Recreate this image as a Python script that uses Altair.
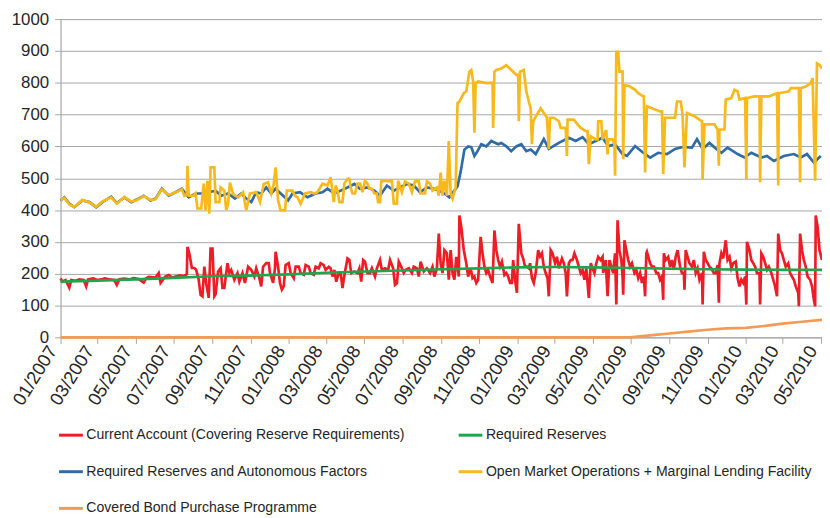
import altair as alt
import pandas as pd

# ---------------- data (day offset from 2007-01-01, value in EUR bn) ----------------
names = [
    "Current Account (Covering Reserve Requirements)",
    "Required Reserves",
    "Required Reserves and Autonomous Factors",
    "Open Market Operations + Marginal Lending Facility",
    "Covered Bond Purchase Programme",
]
colors = ["#EE1C25", "#1FA64B", "#2F6BA7", "#F8B91C", "#F39A55"]

blue = [(0,430),(6,440),(14,420),(22,409),(35,430),(46,425),(57,409),(67,425),(81,442),(90,422),
        (102,440),(113,425),(122,433),(133,445),(144,430),(152,436),(162,467),(173,445),(184,456),(194,467),
        (205,440),(216,452),(225,452),(237,456),(248,461),(257,445),(268,452),(279,436),(289,452),(297,436),
        (305,425),(313,456),(321,452),(329,471),(337,452),(344,467),(356,445),(364,430),(371,452),(383,456),
        (395,440),(408,452),(419,456),(427,467),(438,452),(448,461),(459,471),(470,482),(479,467),(491,471),
        (502,461),(511,445),(522,477),(533,461),(543,471),(554,482),(565,477),(575,456),(586,471),(597,467),
        (606,461),(614,452),(622,440),(630,461),(635,475),(640,520),(646,590),(652,600),(657,598),(662,570),
        (667,585),(673,607),(681,600),(689,617),(700,607),(705,611),(713,600),(721,585),(729,600),(737,607),
        (745,585),(752,590),(760,576),(773,623),(781,592),(797,611),(813,627),(824,617),(835,629),(845,607),
        (856,617),(867,627),(876,601),(887,607),(899,576),(906,570),(919,601),(932,580),(943,565),(956,580),
        (970,576),(983,592),(995,598),(1010,596),(1018,623),(1027,592),(1038,611),(1049,592),(1057,580),
        (1067,596),(1083,576),(1094,565),(1105,580),(1121,565),(1130,570),(1141,554),(1157,570),(1173,576),
        (1184,565),(1194,576),(1205,549),(1216,570)]

yellow = [(0,432),(6,438),(14,418),(22,410),(35,432),(46,424),(57,410),(67,427),(81,440),(90,420),
          (102,441),(113,427),(122,431),(133,444),(144,432),(152,434),(162,465),(173,447),(184,455),(194,465),
          (198,445),(202,450),(203,539),(205,445),(213,445),(216,452),(219,405),(225,405),(229,483),(232,399),
          (235,492),(238,389),(240,534),(246,534),(248,425),(254,425),(256,471),(262,461),(265,400),(268,420),
          (271,486),(276,450),(284,440),(292,456),(297,399),(303,452),(313,456),(319,425),(325,482),(332,487),
          (337,452),(341,482),(344,534),(348,430),(352,399),(359,399),(362,461),(371,461),(375,445),(379,440),
          (384,420),(391,452),(400,456),(406,452),(411,456),(419,483),(427,477),(432,503),(437,425),(440,477),
          (443,461),(446,425),(451,425),(454,483),(459,498),(462,498),(464,471),(467,452),(471,452),(475,483),
          (479,483),(483,456),(487,492),(491,483),(494,467),(498,467),(502,452),(506,452),(508,425),(511,425),
          (513,490),(519,492),(525,490),(530,492),(533,420),(538,420),(540,492),(546,456),(551,490),(557,483),
          (562,456),(567,490),(573,490),(576,452),(583,452),(586,490),(591,483),(595,461),(602,471),(605,445),
          (608,518),(611,445),(614,492),(618,445),(621,617),(624,452),(627,436),(632,471),(635,736),(638,741),
          (645,767),(649,773),(654,835),(657,840),(660,804),(662,643),(664,799),(668,804),(681,799),(691,800),
          (692,658),(694,835),(697,840),(705,845),(713,855),(721,840),(729,825),(732,825),(733,679),(735,835),
          (741,840),(745,773),(749,741),(752,720),(754,607),(756,679),(762,700),(768,720),(773,705),(778,690),
          (781,591),(783,690),(789,690),(797,679),(800,658),(808,658),(810,570),(811,684),(821,684),(827,669),
          (832,658),(840,648),(843,648),(845,544),(848,632),(856,622),(859,622),(860,679),(865,679),(867,622),
          (872,648),(873,648),(875,575),(876,622),(883,622),(886,606),(887,508),(889,897),(892,897),(894,835),
          (899,835),(900,560),(902,793),(911,788),(919,778),(924,767),(932,757),(933,757),(935,518),(938,726),
          (951,716),(959,710),(962,710),(964,513),(967,690),(983,690),(986,741),(992,741),(995,700),(998,534),
          (1002,705),(1014,695),(1022,684),(1026,679),(1027,497),(1030,669),(1046,669),(1051,653),(1053,539),
          (1054,653),(1062,653),(1064,747),(1073,752),(1078,778),(1083,773),(1086,747),(1095,752),(1097,497),
          (1098,752),(1110,757),(1118,757),(1119,487),(1121,757),(1133,757),(1146,767),(1148,477),(1149,767),
          (1165,773),(1168,783),(1181,783),(1183,487),(1184,783),(1192,788),(1200,799),(1203,815),(1207,492),
          (1210,861),(1214,856),(1218,845)]

red = [(0,185),(3,175),(8,180),(14,156),(17,180),(24,178),(30,182),(37,180),(41,160),(44,182),
       (52,185),(59,180),(65,182),(71,185),(78,182),(86,180),(90,165),(94,183),(102,185),(110,182),
       (117,186),(125,183),(133,172),(137,186),(141,190),(152,188),(157,202),(160,171),(167,190),(173,196),
       (179,188),(184,191),(191,195),(197,192),(202,198),(203,284),(206,264),(210,218),(214,218),(217,212),
       (221,181),(224,134),(227,129),(230,222),(233,170),(237,124),(240,279),(243,279),(246,129),(248,135),
       (252,207),(256,217),(259,155),(262,155),(267,233),(270,202),(273,212),(278,181),(283,202),(286,175),
       (291,202),(295,171),(300,222),(305,212),(310,191),(313,217),(318,186),(321,160),(324,222),(329,233),
       (333,233),(335,202),(340,171),(343,217),(344,269),(348,222),(351,171),(354,150),(357,160),(360,227),
       (365,233),(368,202),(373,186),(376,222),(381,222),(384,202),(389,197),(392,227),(397,222),(400,202),
       (405,197),(408,222),(413,217),(416,233),(421,227),(424,212),(429,222),(432,217),(435,191),(438,212),
       (441,175),(445,202),(448,202),(451,155),(454,196),(459,248),(462,243),(465,202),(470,207),(475,202),
       (478,217),(481,175),(484,243),(487,238),(491,202),(495,202),(498,217),(503,191),(506,217),(511,243),
       (514,212),(519,217),(524,212),(527,243),(532,217),(535,165),(538,170),(541,238),(545,222),(549,202),
       (552,212),(557,217),(562,202),(565,222),(570,217),(573,191),(576,238),(581,207),(586,217),(591,202),
       (595,222),(598,191),(602,217),(605,326),(608,233),(611,202),(614,274),(618,264),(621,181),(624,274),
       (627,202),(630,181),(633,253),(637,191),(638,383),(641,347),(645,274),(646,264),(649,233),(652,191),
       (656,217),(659,186),(662,191),(665,171),(668,181),(672,316),(675,264),(678,222),(681,202),(684,212),
       (687,191),(691,171),(694,336),(697,274),(700,243),(703,222),(706,238),(710,196),(713,202),(716,191),
       (719,171),(722,171),(724,243),(727,181),(730,140),(733,357),(737,264),(740,248),(743,222),(746,222),
       (749,217),(751,233),(754,186),(757,171),(760,202),(764,274),(767,254),(770,264),(773,222),(776,202),
       (779,186),(781,129),(784,274),(787,264),(791,233),(794,253),(797,217),(802,248),(805,233),(808,202),
       (810,129),(813,233),(816,243),(819,243),(822,264),(826,243),(829,222),(832,202),(835,212),(838,181),
       (841,217),(845,124),(848,233),(851,217),(854,202),(857,233),(860,253),(864,243),(867,253),(868,202),
       (872,243),(875,129),(878,243),(881,222),(884,202),(887,264),(889,103),(891,368),(894,274),(897,243),
       (899,191),(900,134),(902,305),(905,274),(908,243),(911,222),(914,233),(918,202),(921,212),(924,186),
       (927,202),(930,171),(933,191),(935,129),(937,264),(938,269),(943,233),(946,222),(949,222),(953,202),
       (956,202),(959,181),(962,191),(964,118),(965,264),(968,243),(972,253),(975,222),(978,243),(981,212),
       (984,253),(987,274),(991,222),(994,202),(997,202),(998,150),(1000,274),(1003,253),(1006,233),(1010,222),
       (1013,243),(1016,202),(1019,217),(1022,181),(1026,202),(1027,103),(1029,269),(1032,243),(1035,233),
       (1038,222),(1041,217),(1045,202),(1048,202),(1051,227),(1053,109),(1054,233),(1057,264),(1060,248),
       (1064,305),(1067,243),(1070,253),(1073,217),(1076,233),(1080,238),(1083,186),(1086,160),(1089,181),
       (1092,171),(1095,191),(1097,103),(1098,300),(1102,274),(1105,243),(1108,233),(1111,222),(1114,202),
       (1118,202),(1119,103),(1121,264),(1124,253),(1127,233),(1130,212),(1133,222),(1137,202),(1140,181),
       (1143,160),(1146,129),(1148,326),(1151,274),(1154,264),(1157,243),(1160,222),(1164,233),(1167,202),
       (1170,191),(1173,181),(1176,160),(1180,140),(1181,98),(1183,326),(1186,274),(1189,243),(1192,222),
       (1195,191),(1199,181),(1202,160),(1205,118),(1207,98),(1208,383),(1211,347),(1214,274),(1218,243)]

green = [(0,175),(59,178),(120,182),(181,187),(243,192),(304,194),(365,198),(425,203),(486,207),
         (547,210),(609,214),(670,217),(731,220),(790,221),(851,220),(912,218),(974,216),(1035,214),
         (1096,213),(1155,212),(1218,212)]

orange = [(0,0),(911,0),(943,6),(974,12),(1004,18),(1035,24),(1065,28),(1096,30),(1127,36),
          (1155,43),(1186,49),(1218,55)]

series_points = [red, green, blue, yellow, orange]

tick_months = [(y, m) for y in (2007, 2008, 2009, 2010) for m in (1, 3, 5, 7, 9, 11)
               if (y, m) <= (2010, 5)]
y_ticks = list(range(0, 1001, 100))

# ---------------- build ----------------
base = pd.Timestamp("2007-01-01")

font = "Liberation Sans"
text_color = "#262626"
grid_color = "#A6A6A6"

color_scale = alt.Scale(domain=names, range=colors)
x_scale = alt.Scale(domain=[alt.DateTime(year=2007, month=1, date=1),
                            alt.DateTime(year=2010, month=5, date=3)])

layers = []
for i, (name, pts) in enumerate(zip(names, series_points)):
    d = pd.DataFrame({
        "date": [base + pd.Timedelta(days=p[0]) for p in pts],
        "value": [p[1] for p in pts],
        "series": name,
    })
    layer = alt.Chart(d).mark_line(strokeWidth=2.7, clip=False).encode(
        x=alt.X("date:T", scale=x_scale, title=None,
                axis=alt.Axis(values=[alt.DateTime(year=y, month=m, date=1) for y, m in tick_months],
                              format="%m/%Y", labelAngle=-58, labelFontSize=18.5, labelFont=font,
                              labelColor=text_color, labelOverlap=False, grid=False,
                              labelAlign="right", labelBaseline="bottom",
                              tickSize=6, tickColor=grid_color, domainColor=grid_color,
                              labelPadding=9)),
        y=alt.Y("value:Q", scale=alt.Scale(domain=[0, 1000], nice=False), title=None,
                axis=alt.Axis(values=y_ticks, format="d", grid=True, gridColor=grid_color, gridWidth=1,
                              tickSize=6, tickColor=grid_color, domainColor=grid_color,
                              labelFontSize=17, labelFont=font, labelColor=text_color,
                              labelPadding=6)),
        color=alt.Color("series:N", scale=color_scale,
                        legend=alt.Legend(title=None, orient="none", legendX=-3, legendY=406,
                                          columns=2, direction="horizontal",
                                          symbolType="stroke", symbolSize=576, symbolStrokeWidth=3,
                                          labelFont=font, labelFontSize=14.2,
                                          labelColor=text_color, labelLimit=600, labelOffset=2,
                                          rowPadding=16, columnPadding=47)),
    )
    layers.append(layer)

chart = alt.layer(*layers).properties(
    width=768, height=321,
    padding={"left": 53, "top": 9, "right": 0, "bottom": 180},
    autosize=alt.AutoSizeParams(type="none"),
).configure_view(stroke=None).configure(background="white")

chart.save("out.html", embed_options={"renderer": "svg", "actions": False})
